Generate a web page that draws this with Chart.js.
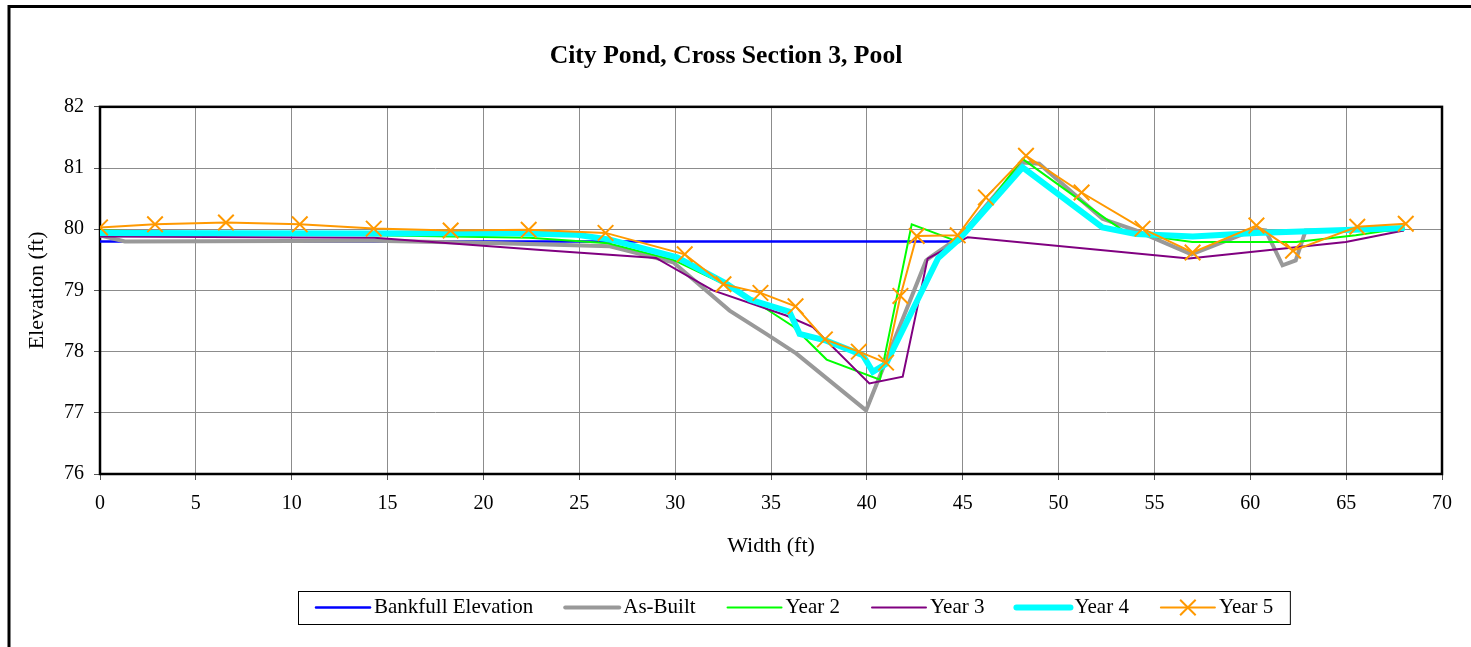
<!DOCTYPE html>
<html>
<head>
<meta charset="utf-8">
<script src="https://cdn.jsdelivr.net/npm/chart.js@4.4.1/dist/chart.umd.min.js"></script>
<style>
  html, body { margin: 0; padding: 0; background: #ffffff; overflow: hidden; }
  #wrap { width: 1471px; height: 647px; position: relative; }
</style>
</head>
<body>
<div id="wrap"><canvas id="c" width="1471" height="647"></canvas></div>
<script>
// Titles
const chartTitle = 'City Pond, Cross Section 3, Pool';
const xAxisTitle = 'Width (ft)';
const yAxisTitle = 'Elevation (ft)';

// Tick labels
const xTickValues = [0, 5, 10, 15, 20, 25, 30, 35, 40, 45, 50, 55, 60, 65, 70];
const yTickValues = [76, 77, 78, 79, 80, 81, 82];

// Survey series: station (ft) and elevation (ft)
const bankfullX = [0, 44.5];
const bankfullY = [79.8, 79.8];

const asBuiltX = [0, 1.3, 14.3, 20.9, 26.6, 29.9, 32.84, 34.75, 36.31, 39.96, 43.09, 43.3, 44.82, 48.12, 48.99, 52.29, 54.03, 56.93, 60.29, 60.8, 61.68, 62.37, 62.89, 68.02];
const asBuiltY = [79.9, 79.8, 79.81, 79.77, 79.72, 79.46, 78.67, 78.29, 77.97, 77.04, 79.49, 79.54, 79.87, 81.09, 81.07, 80.17, 79.98, 79.59, 80.0, 79.98, 79.41, 79.49, 79.98, 79.99];

const year2X = [0, 14.3, 22.4, 26.5, 29.9, 32.5, 34.3, 36.16, 37.9, 40.68, 42.34, 44.82, 48.12, 52.47, 53.55, 56.97, 62.4, 65.5, 68.05];
const year2Y = [79.98, 79.9, 79.86, 79.77, 79.5, 79.11, 78.79, 78.41, 77.87, 77.54, 80.08, 79.79, 81.15, 80.17, 79.94, 79.79, 79.79, 79.9, 80.02];

const year3X = [0, 14.3, 23.0, 29.0, 31.97, 35.79, 37.18, 40.13, 41.87, 43.17, 45.26, 56.8, 64.98, 68.0];
const year3Y = [79.88, 79.86, 79.66, 79.53, 79.0, 78.59, 78.4, 77.48, 77.59, 79.52, 79.87, 79.52, 79.79, 79.98];

const year4X = [0, 14.3, 20.9, 24.87, 26.6, 30.1, 32.67, 33.9, 35.96, 36.49, 37.88, 39.79, 40.31, 41.0, 43.72, 44.82, 48.12, 52.29, 54.03, 57.0, 60.3, 68.05];
const year4Y = [79.94, 79.93, 79.94, 79.91, 79.83, 79.54, 79.11, 78.85, 78.65, 78.29, 78.18, 77.94, 77.67, 77.8, 79.53, 79.84, 81.01, 80.03, 79.92, 79.88, 79.94, 80.02];

const year5X = [0, 2.87, 6.57, 10.42, 14.28, 18.29, 22.36, 26.37, 30.5, 32.52, 34.45, 36.28, 37.81, 39.58, 41.0, 41.75, 42.6, 44.74, 46.21, 48.3, 51.2, 54.38, 56.99, 60.32, 62.23, 65.58, 68.11];
const year5Y = [80.03, 80.08, 80.11, 80.08, 80.01, 79.98, 79.99, 79.94, 79.59, 79.1, 78.96, 78.74, 78.2, 78.0, 77.82, 78.91, 79.89, 79.9, 80.52, 81.2, 80.6, 80.01, 79.62, 80.06, 79.65, 80.04, 80.09];

const seriesNames = ['Bankfull Elevation', 'As-Built', 'Year 2', 'Year 3', 'Year 4', 'Year 5'];

const FONT = "'Liberation Serif', 'Times New Roman', serif";

function toPoints(xs, ys) {
  return xs.map((x, i) => ({ x: x, y: ys[i] }));
}

function lineSet(label, xs, ys, color, width, order, extra) {
  return Object.assign({
    label: label,
    data: toPoints(xs, ys),
    borderColor: color,
    backgroundColor: color,
    borderWidth: width,
    pointRadius: 0,
    pointHoverRadius: 0,
    tension: 0,
    fill: false,
    order: order
  }, extra || {});
}

const datasets = [
  lineSet(seriesNames[0], bankfullX, bankfullY, '#0000ff', 2.5, 6),
  lineSet(seriesNames[1], asBuiltX, asBuiltY, '#999999', 4, 5),
  lineSet(seriesNames[2], year2X, year2Y, '#00ff00', 2, 4),
  lineSet(seriesNames[3], year3X, year3Y, '#800080', 2, 3),
  lineSet(seriesNames[4], year4X, year4Y, '#00ffff', 6, 2),
  lineSet(seriesNames[5], year5X, year5Y, '#ff9900', 2, 1, {
    pointStyle: 'crossRot',
    pointRadius: 11,
    pointBorderWidth: 2,
    pointBorderColor: '#ff9900'
  })
];

// White page with the outer frame
const pageFrame = {
  id: 'pageFrame',
  beforeDraw(chart) {
    const ctx = chart.ctx;
    ctx.save();
    ctx.fillStyle = '#ffffff';
    ctx.fillRect(0, 0, chart.width, chart.height);
    ctx.strokeStyle = '#000000';
    ctx.lineWidth = 3;
    ctx.strokeRect(9, 6.5, chart.width + 20, chart.height + 20);
    ctx.restore();
  }
};

// Black border around the plot area
const plotFrame = {
  id: 'plotFrame',
  beforeDatasetsDraw(chart) {
    const a = chart.chartArea;
    const ctx = chart.ctx;
    ctx.save();
    ctx.strokeStyle = '#000000';
    ctx.lineWidth = 2.5;
    ctx.strokeRect(a.left, a.top, a.right - a.left, a.bottom - a.top);
    ctx.restore();
  }
};

// Boxed legend with line samples under the axis title
const boxedLegend = {
  id: 'boxedLegend',
  afterDraw(chart) {
    const ctx = chart.ctx;
    const sets = chart.data.datasets;
    const cy = 607.5;
    const sample = 54;
    ctx.save();
    ctx.font = '21px ' + FONT;
    ctx.textBaseline = 'middle';
    ctx.textAlign = 'left';
    let x = 316;
    const startX = 298.5;
    const parts = [];
    sets.forEach((ds) => {
      const w = ctx.measureText(ds.label).width;
      parts.push({ ds: ds, x: x, w: w });
      x += sample + 4 + w + 32;
    });
    const last = parts[parts.length - 1];
    const endX = last.x + sample + 4 + last.w + 17;
    ctx.strokeStyle = '#000000';
    ctx.lineWidth = 1;
    ctx.strokeRect(startX, 591.5, endX - startX, 33);
    parts.forEach((p) => {
      const ds = p.ds;
      ctx.strokeStyle = ds.borderColor;
      ctx.lineWidth = ds.borderWidth;
      ctx.lineCap = 'round';
      ctx.beginPath();
      ctx.moveTo(p.x, cy);
      ctx.lineTo(p.x + sample, cy);
      ctx.stroke();
      if (ds.pointStyle === 'crossRot') {
        ctx.lineWidth = ds.pointBorderWidth;
        ctx.lineCap = 'butt';
        Chart.helpers.drawPoint(ctx, {
          pointStyle: 'crossRot',
          radius: ds.pointRadius,
          borderWidth: ds.pointBorderWidth,
          rotation: 0
        }, p.x + sample / 2, cy);
      }
      ctx.fillStyle = '#000000';
      ctx.fillText(ds.label, p.x + sample + 4, cy);
    });
    ctx.restore();
  }
};

new Chart(document.getElementById('c'), {
  type: 'line',
  data: { datasets: datasets },
  plugins: [pageFrame, plotFrame, boxedLegend],
  options: {
    responsive: false,
    animation: false,
    devicePixelRatio: 1,
    events: [],
    layout: { padding: { left: 10, right: 29, top: 0, bottom: 0 } },
    plugins: {
      legend: { display: false },
      tooltip: { enabled: false },
      title: {
        display: true,
        text: chartTitle,
        color: '#000000',
        font: { family: FONT, size: 25.7, weight: 'bold', lineHeight: 1.2 },
        padding: { top: 41, bottom: 35 }
      }
    },
    scales: {
      x: {
        type: 'linear',
        min: xTickValues[0],
        max: xTickValues[xTickValues.length - 1],
        afterBuildTicks(scale) { scale.ticks = xTickValues.map(v => ({ value: v })); },
        afterFit(scale) { scale.height = 173; },
        ticks: { color: '#000000', font: { family: FONT, size: 20 }, padding: 12, maxRotation: 0, autoSkip: false },
        grid: { color: '#8c8c8c', lineWidth: 1, tickLength: 6, tickColor: '#555555' },
        border: { display: false },
        title: {
          display: true,
          text: xAxisTitle,
          color: '#000000',
          font: { family: FONT, size: 22, lineHeight: 1.2 },
          padding: { top: 0, bottom: 88 }
        }
      },
      y: {
        type: 'linear',
        min: yTickValues[0],
        max: yTickValues[yTickValues.length - 1],
        afterBuildTicks(scale) { scale.ticks = yTickValues.map(v => ({ value: v })); },
        afterFit(scale) { scale.width = 90; },
        ticks: { color: '#000000', font: { family: FONT, size: 20 }, padding: 10 },
        grid: { color: '#8c8c8c', lineWidth: 1, tickLength: 6, tickColor: '#555555' },
        border: { display: false },
        title: {
          display: true,
          text: yAxisTitle,
          color: '#000000',
          font: { family: FONT, size: 22, lineHeight: 1.2 },
          padding: { top: 14, bottom: 0 }
        }
      }
    }
  }
});
</script>
</body>
</html>
